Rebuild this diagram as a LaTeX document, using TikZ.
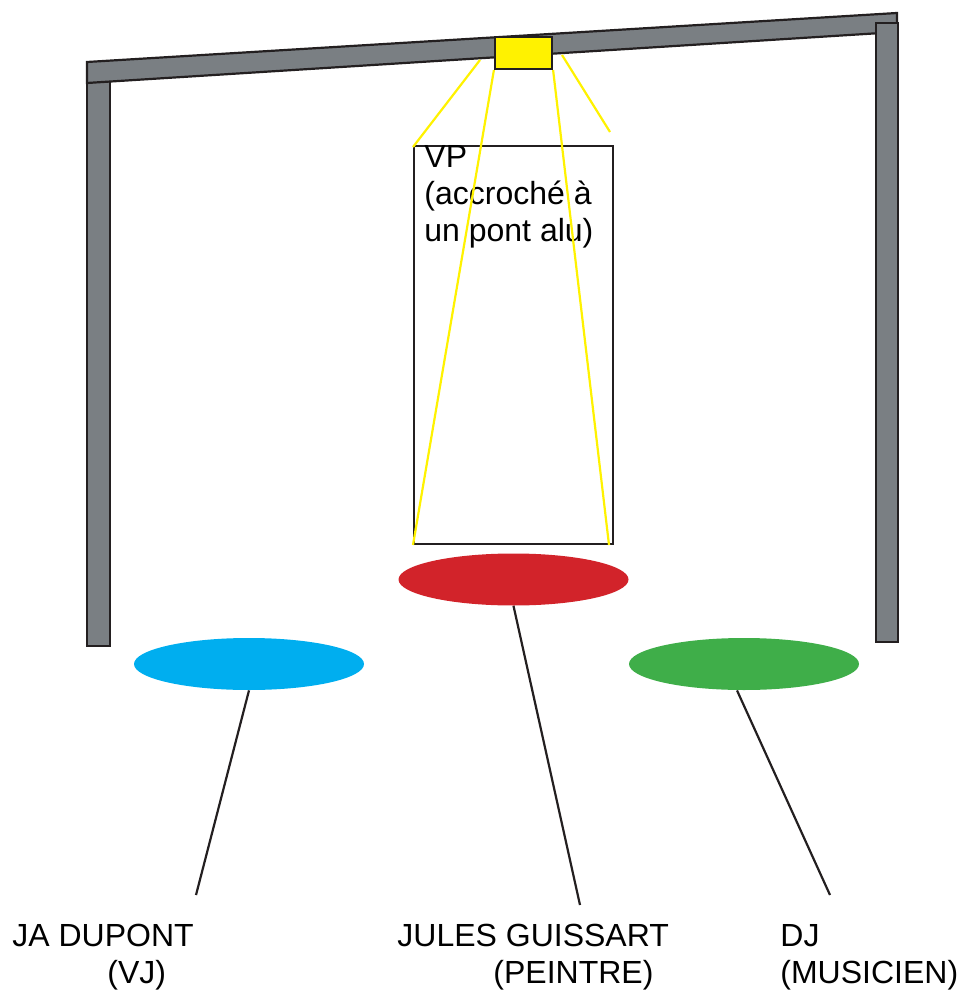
\documentclass[tikz,border=0pt]{standalone}
\usepackage{fontspec}
\setmainfont{Liberation Sans}
\usetikzlibrary{shapes.geometric}
\definecolor{alu}{HTML}{7A7F83}
\definecolor{trait}{HTML}{231F20}
\definecolor{jaune}{HTML}{FFF200}
\definecolor{bleu}{HTML}{00AEEF}
\definecolor{rouge}{HTML}{D2232A}
\definecolor{vert}{HTML}{3FAE49}
\begin{document}
\begin{tikzpicture}[x=0.5pt, y=-0.5pt,
		poutre/.style={draw=trait, fill=alu, line width=1.1pt},
		faisceau/.style={jaune, line width=1.1pt},
		place/.style={ellipse, draw=none, minimum width=115pt, minimum height=26pt, inner sep=0pt},
		lien/.style={trait, line width=1.1pt},
		nom/.style={anchor=base west, inner sep=0pt, align=left, font=\fontsize{16}{18.5}\selectfont}
		]
		\useasboundingbox (0,0) rectangle (964,994);
		
		% pont alu
		\draw[poutre] (87,80) rectangle (110,646);
		\draw[poutre] (87,62) -- (897,13) -- (897,32) -- (87,83) -- cycle;
		\draw[poutre] (876,23) rectangle (898,642);
		
		% ecran + VP
		\node[draw=trait, line width=1pt, minimum width=99.5pt, minimum height=199pt, inner sep=0pt] (ecran) at (513.5,345) {};
		\node[nom] (vptexte) at (424,242) {VP\\(accroché à\\un pont alu)};
		\node[draw=trait, fill=jaune, line width=1.1pt, minimum width=28.5pt, minimum height=16pt, inner sep=0pt] (vp) at (523.5,53) {};
		
		\coordinate (fg) at (480,60);
		\coordinate (fd) at (562,55);
		\draw[faisceau] (fg) -- (413,147);
		\draw[faisceau] (vp.south west) -- (ecran.south west);
		\draw[faisceau] (vp.south east) -- ([xshift=-2.5pt]ecran.south east);
		\draw[faisceau] (fd) -- (610,132);
		
		% les trois places
		\node[place, fill=rouge] (peintre) at (513.5,579.5) {};
		\node[place, fill=bleu] (vj) at (249,664) {};
		\node[place, fill=vert] (dj) at (744,664) {};
		
		\node[nom] (nomvj) at (12,983) {JA DUPONT\\\hspace*{47.5pt}(VJ)};
		\node[nom] (nompeintre) at (397,983) {JULES GUISSART\\\hspace*{48pt}(PEINTRE)};
		\node[nom] (nomdj) at (780,983) {DJ\\(MUSICIEN)};
		
		\coordinate (bvj) at (196,895);
		\coordinate (bpeintre) at (580,905);
		\coordinate (bdj) at (830,895);
		\draw[lien] (vj.south) -- (bvj);
		\draw[lien] (peintre.south) -- (bpeintre);
		\draw[lien] ([xshift=-3.5pt]dj.south) -- (bdj);
		
	\end{tikzpicture}
\end{document}
